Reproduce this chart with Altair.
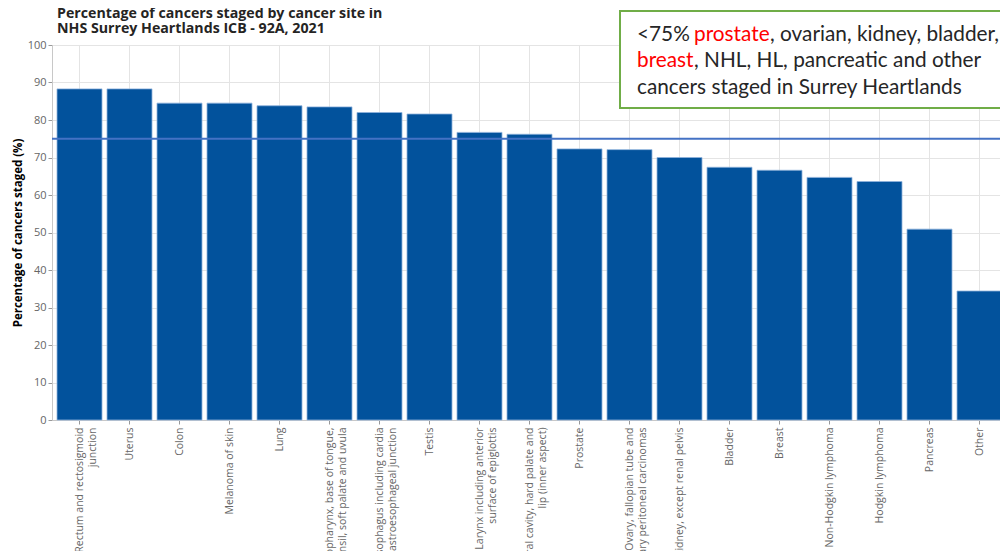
import altair as alt
import pandas as pd

sites = [
    "Rectum and rectosigmoid|junction",
    "Uterus",
    "Colon",
    "Melanoma of skin",
    "Lung",
    "Oropharynx, base of tongue,|tonsil, soft palate and uvula",
    "Oesophagus including cardia|and gastroesophageal junction",
    "Testis",
    "Larynx including anterior|surface of epiglottis",
    "Oral cavity, hard palate and|lip (inner aspect)",
    "Prostate",
    "Ovary, fallopian tube and|primary peritoneal carcinomas",
    "Kidney, except renal pelvis",
    "Bladder",
    "Breast",
    "Non-Hodgkin lymphoma",
    "Hodgkin lymphoma",
    "Pancreas",
    "Other",
]
pct_staged = [88.3, 88.3, 84.5, 84.5, 83.8, 83.5, 82.0, 81.6, 76.7, 76.2,
              72.3, 72.1, 70.0, 67.4, 66.6, 64.7, 63.6, 50.9, 34.4]
target = 75
y_ticks = [0, 10, 20, 30, 40, 50, 60, 70, 80, 90, 100]

df = pd.DataFrame({"site": sites, "pct": pct_staged})
one = pd.DataFrame({"k": [0]})

GRID = "#E4E4E4"
LABEL = "#666666"

y_axis = alt.Axis(title="Percentage of cancers staged (%)", values=y_ticks, labelOverlap=False,
                  titleFont="Open Sans", titleFontSize=11.5, titleFontWeight="bold",
                  titleColor="#000000", titlePadding=4,
                  labelFont="Open Sans", labelFontSize=11, labelColor=LABEL,
                  labelPadding=2, gridColor=GRID, tickColor="#999999", tickSize=4,
                  domainColor="#C8C8C8")
y_scale = alt.Scale(domain=[0, 100])

bars = alt.Chart(df).mark_bar(color="#02529C", stroke="#8FB2DC", strokeWidth=0.8).encode(
    x=alt.X("site:N", sort=sites,
            scale=alt.Scale(paddingInner=0.1, paddingOuter=0.1, range=[0, 955]),
            axis=alt.Axis(title=None, labelAngle=-90, labelExpr="split(datum.label, '|')",
                          labelFont="Open Sans", labelFontSize=10.5, labelColor=LABEL,
                          labelLineHeight=13.5, labelPadding=3, labelLimit=400,
                          grid=True, gridColor=GRID, tickColor="#999999", tickSize=4,
                          domainColor="#C8C8C8")),
    y=alt.Y("pct:Q", scale=y_scale, axis=y_axis),
)

rule = alt.Chart(one).mark_rule(color="#4472C4", strokeWidth=2).encode(
    y=alt.Y(datum=target, scale=y_scale, axis=y_axis))

box = alt.Chart(one).mark_rect(fill="white", stroke="#70AD47", strokeWidth=2).encode(
    x=alt.value(568), x2=alt.value(954), y=alt.value(-34), y2=alt.value(63))

def txt(s, x, y, color="#262626", font="Lato", size=20.8, weight="normal"):
    return alt.Chart(one).mark_text(text=s, align="left", baseline="alphabetic", font=font,
                                    fontSize=size, fontWeight=weight, color=color).encode(
        x=alt.value(x), y=alt.value(y))

notes = [
    txt("<75%", 585, -4),
    txt("prostate", 642, -4, color="#FF0000"),
    txt(", ovarian, kidney, bladder,", 718, -4),
    txt("breast", 585, 22, color="#FF0000"),
    txt(", NHL, HL, pancreatic and other", 642, 22),
    txt("cancers staged in Surrey Heartlands", 585, 49),
]

title = [
    txt("Percentage of cancers staged by cancer site in", 5, -27,
        color="#252423", font="Open Sans", size=14.2, weight="bold"),
    txt("NHS Surrey Heartlands ICB - 92A, 2021", 5, -12,
        color="#252423", font="Open Sans", size=14.2, weight="bold"),
]

chart = alt.layer(bars, rule, box, *notes, *title).properties(
    width=948, height=375,
    autosize=alt.AutoSizeParams(type="none"),
    padding={"left": 44, "top": 37, "right": 0, "bottom": 131},
).configure_view(stroke=None)

chart.save("out.html", embed_options={"renderer": "svg", "actions": False})
